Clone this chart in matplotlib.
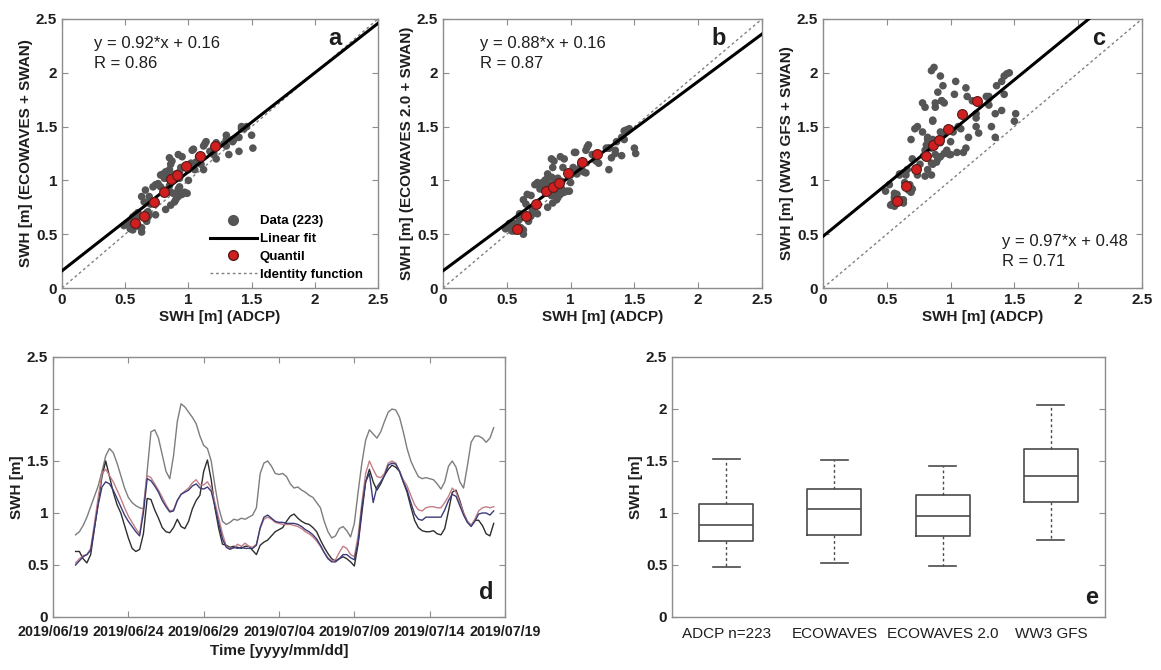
import numpy as np
import matplotlib
matplotlib.use("Agg")
import matplotlib.pyplot as plt
import matplotlib.dates as mdates
from matplotlib.lines import Line2D

plt.rcParams['font.family'] = ['Liberation Sans', 'DejaVu Sans']

# --- time series (6-hourly) ---
t_start = np.datetime64('2019-06-20T12:00')
adcp = [0.63, 0.63, 0.56, 0.52, 0.60, 0.85, 1.10, 1.35, 1.50, 1.35, 1.20, 1.08,
        1.00, 0.88, 0.76, 0.66, 0.63, 0.65, 0.80, 1.14, 1.13, 1.03, 0.95, 0.86,
        0.82, 0.81, 0.86, 0.94, 0.87, 0.85, 0.92, 1.04, 1.12, 1.17, 1.40, 1.51,
        1.32, 1.05, 0.85, 0.70, 0.69, 0.67, 0.68, 0.67, 0.66, 0.68, 0.68, 0.64,
        0.60, 0.69, 0.72, 0.74, 0.78, 0.82, 0.84, 0.86, 0.92, 0.97, 0.99, 0.95,
        0.92, 0.90, 0.89, 0.86, 0.82, 0.74, 0.67, 0.61, 0.56, 0.54, 0.56, 0.58,
        0.56, 0.53, 0.49, 0.70, 1.00, 1.30, 1.42, 1.30, 1.22, 1.28, 1.36, 1.42,
        1.46, 1.44, 1.40, 1.30, 1.20, 1.06, 0.93, 0.86, 0.83, 0.82, 0.82, 0.83,
        0.80, 0.79, 0.85, 1.02, 1.20, 1.22, 1.12, 1.00, 0.92, 0.88, 0.93, 0.93,
        0.88, 0.80, 0.78, 0.90]
ecowaves = [0.52, 0.56, 0.59, 0.60, 0.66, 0.90, 1.15, 1.38, 1.42, 1.36, 1.30, 1.22,
            1.14, 1.05, 0.97, 0.91, 0.85, 0.80, 1.05, 1.36, 1.34, 1.28, 1.22, 1.15,
            1.08, 1.02, 1.03, 1.12, 1.18, 1.21, 1.24, 1.29, 1.32, 1.27, 1.27, 1.30,
            1.24, 1.10, 0.95, 0.80, 0.68, 0.66, 0.66, 0.70, 0.68, 0.71, 0.68, 0.67,
            0.70, 0.85, 0.94, 0.96, 0.94, 0.91, 0.90, 0.89, 0.89, 0.89, 0.88, 0.87,
            0.85, 0.82, 0.80, 0.77, 0.73, 0.68, 0.62, 0.57, 0.54, 0.55, 0.62, 0.68,
            0.66, 0.60, 0.58, 0.78, 1.10, 1.38, 1.50, 1.42, 1.35, 1.34, 1.38, 1.48,
            1.50, 1.48, 1.40, 1.32, 1.26, 1.17, 1.08, 1.03, 1.02, 1.05, 1.06, 1.06,
            1.05, 1.05, 1.10, 1.16, 1.24, 1.20, 1.10, 1.00, 0.92, 0.88, 0.94, 1.02,
            1.05, 1.06, 1.05, 1.06]
ecowaves2 = [0.50, 0.54, 0.58, 0.60, 0.64, 0.86, 1.08, 1.25, 1.30, 1.28, 1.22, 1.14,
             1.06, 0.98, 0.92, 0.87, 0.82, 0.78, 1.00, 1.33, 1.31, 1.26, 1.20, 1.12,
             1.06, 1.01, 1.02, 1.12, 1.18, 1.20, 1.22, 1.26, 1.28, 1.24, 1.23, 1.25,
             1.21, 1.06, 0.90, 0.75, 0.67, 0.65, 0.67, 0.66, 0.67, 0.66, 0.66, 0.66,
             0.69, 0.86, 0.96, 0.98, 0.95, 0.92, 0.91, 0.91, 0.90, 0.90, 0.90, 0.89,
             0.87, 0.84, 0.82, 0.79, 0.75, 0.69, 0.62, 0.56, 0.53, 0.53, 0.56, 0.60,
             0.60, 0.57, 0.55, 0.72, 1.05, 1.30, 1.38, 1.10, 1.25, 1.30, 1.36, 1.46,
             1.48, 1.47, 1.40, 1.30, 1.22, 1.10, 0.99, 0.94, 0.93, 0.96, 0.96, 0.96,
             0.96, 0.96, 1.03, 1.12, 1.18, 1.16, 1.07, 0.98, 0.91, 0.87, 0.92, 0.99,
             1.00, 1.00, 0.98, 1.02]
ww3 = [0.79, 0.82, 0.88, 0.96, 1.06, 1.16, 1.26, 1.40, 1.55, 1.62, 1.58, 1.48,
       1.36, 1.24, 1.15, 1.10, 1.07, 1.05, 1.04, 1.40, 1.78, 1.80, 1.72, 1.56,
       1.40, 1.33, 1.55, 1.88, 2.05, 2.02, 1.97, 1.92, 1.86, 1.74, 1.65, 1.62,
       1.50, 1.26, 1.05, 0.92, 0.89, 0.91, 0.94, 0.93, 0.95, 0.94, 0.96, 0.98,
       1.05, 1.38, 1.48, 1.50, 1.45, 1.38, 1.37, 1.38, 1.35, 1.28, 1.24, 1.25,
       1.22, 1.20, 1.17, 1.15, 1.10, 1.05, 0.92, 0.82, 0.76, 0.78, 0.85, 0.87,
       0.83, 0.77, 0.90, 1.20, 1.48, 1.70, 1.80, 1.76, 1.72, 1.78, 1.88, 1.97,
       2.00, 1.99, 1.92, 1.78, 1.62, 1.50, 1.42, 1.35, 1.33, 1.34, 1.33, 1.32,
       1.28, 1.23, 1.30, 1.45, 1.50, 1.44, 1.30, 1.24, 1.45, 1.68, 1.74, 1.74,
       1.72, 1.68, 1.72, 1.82]
times = t_start + np.arange(len(adcp)) * np.timedelta64(6, 'h')

# --- quantile points for panels a-c ---
q_x = [0.58, 0.65, 0.73, 0.81, 0.86, 0.91, 0.98, 1.09, 1.21]
q_eco = [0.60, 0.67, 0.80, 0.89, 1.01, 1.05, 1.13, 1.23, 1.32]
q_eco2 = [0.55, 0.67, 0.78, 0.90, 0.94, 0.98, 1.07, 1.17, 1.25]
q_ww3 = [0.81, 0.95, 1.11, 1.23, 1.33, 1.38, 1.48, 1.62, 1.74]

fit_slope = [0.92, 0.88, 0.97]
fit_icpt = [0.16, 0.16, 0.48]
fit_r = [0.86, 0.87, 0.71]

# --- boxplot stats (panel e) ---
box_labels = ['ADCP n=223', 'ECOWAVES', 'ECOWAVES 2.0', 'WW3 GFS']
box_lo = [0.48, 0.52, 0.49, 0.74]
box_q1 = [0.73, 0.79, 0.78, 1.11]
box_med = [0.88, 1.04, 0.975, 1.36]
box_q3 = [1.09, 1.23, 1.17, 1.62]
box_hi = [1.52, 1.51, 1.45, 2.04]

spine_c = '#8c8c8c'
txt_c = '#1e1e1e'


def style_axes(ax, size=11):
    for s in ax.spines.values():
        s.set_color(spine_c)
        s.set_linewidth(1.0)
    ax.tick_params(direction='in', top=True, right=True, length=4,
                   color=spine_c, labelcolor=txt_c, labelsize=size)
    for lab in ax.get_xticklabels() + ax.get_yticklabels():
        lab.set_fontweight('bold')


fig = plt.figure(figsize=(11.61, 6.70), dpi=100)
W, H = 1161, 670

def add_ax(x0, x1, ytop, ybot):
    return fig.add_axes([x0 / W, 1 - ybot / H, (x1 - x0) / W, (ybot - ytop) / H])

top_axes = [add_ax(62, 378, 19, 288), add_ax(443, 762, 19, 288), add_ax(823, 1142, 19, 288)]
models = [ecowaves, ecowaves2, ww3]
quants = [q_eco, q_eco2, q_ww3]
ylabels = ['SWH [m] (ECOWAVES + SWAN)', 'SWH [m] (ECOWAVES 2.0 + SWAN)',
           'SWH [m] (WW3 GFS + SWAN)']
letters = ['a', 'b', 'c']
ticks = [0, 0.5, 1, 1.5, 2, 2.5]
tick_txt = ['0', '0.5', '1', '1.5', '2', '2.5']

for i, ax in enumerate(top_axes):
    xs = np.array([0, 2.5])
    ax.plot(xs, xs, color='#808080', lw=1.0, ls=(0, (2, 2)), zorder=1)
    ax.scatter(adcp, models[i], s=30, color='#555555', edgecolors='none', zorder=2)
    ax.plot(xs, fit_slope[i] * xs + fit_icpt[i], color='black', lw=2.2, zorder=3)
    ax.scatter(q_x, quants[i], s=50, color='#d01f1f', edgecolors='#5a1a1a',
               linewidths=0.8, zorder=4)
    ax.set_xlim(0, 2.5)
    ax.set_ylim(0, 2.5)
    ax.set_xticks(ticks)
    ax.set_xticklabels(tick_txt)
    ax.set_yticks(ticks)
    ax.set_yticklabels(tick_txt)
    style_axes(ax)
    ax.set_xlabel('SWH [m] (ADCP)', fontsize=11, fontweight='bold', color=txt_c, labelpad=2)
    ax.set_ylabel(ylabels[i], fontsize=11, fontweight='bold', color=txt_c, labelpad=2)
    eq = 'y = %.2f*x + %.2f\nR = %.2f' % (fit_slope[i], fit_icpt[i], fit_r[i])
    if i < 2:
        ax.text(0.10 if i == 0 else 0.115, 0.935, eq, transform=ax.transAxes, fontsize=12,
                va='top', ha='left', color=txt_c, linespacing=1.4)
    else:
        ax.text(0.56, 0.20, eq, transform=ax.transAxes, fontsize=12,
                va='top', ha='left', color=txt_c, linespacing=1.4)
    ax.text(0.865, 0.97, letters[i], transform=ax.transAxes, fontsize=17,
            fontweight='bold', va='top', ha='center', color=txt_c)

handles = [Line2D([], [], ls='none', marker='o', ms=7, color='#555555'),
           Line2D([], [], color='black', lw=2.2),
           Line2D([], [], ls='none', marker='o', ms=7, color='#d01f1f', mec='#5a1a1a'),
           Line2D([], [], color='#808080', lw=1.0, ls=(0, (2, 2)))]
leg = top_axes[0].legend(handles, ['Data (223)', 'Linear fit', 'Quantil', 'Identity function'],
                         loc='lower right', frameon=False, handlelength=3.6,
                         handletextpad=0.2, labelspacing=0.42, borderaxespad=0.15,
                         bbox_to_anchor=(0.975, 0.0),
                         prop={'weight': 'bold', 'size': 9.5})

# --- panel d: time series ---
axd = add_ax(53, 505, 357, 617)
axd.plot(times, ww3, color='#7d7d7d', lw=1.0)
axd.plot(times, adcp, color='#2e2e2e', lw=1.0)
axd.plot(times, ecowaves, color='#c47f86', lw=1.0)
axd.plot(times, ecowaves2, color='#3b3b78', lw=1.0)
axd.set_xlim(np.datetime64('2019-06-19'), np.datetime64('2019-07-19'))
axd.set_ylim(0, 2.5)
axd.set_yticks(ticks)
axd.set_yticklabels(tick_txt)
axd.xaxis.set_major_locator(mdates.DayLocator(bymonthday=[4, 9, 14, 19, 24, 29]))
axd.xaxis.set_major_formatter(mdates.DateFormatter('%Y/%m/%d'))
style_axes(axd)
axd.tick_params(axis='x', labelsize=10.3, pad=6)
axd.set_xlabel('Time [yyyy/mm/dd]', fontsize=11, fontweight='bold', color=txt_c, labelpad=3)
axd.set_ylabel('SWH [m]', fontsize=11, fontweight='bold', color=txt_c, labelpad=2)
axd.text(0.975, 0.05, 'd', transform=axd.transAxes, fontsize=17, fontweight='bold',
         ha='right', va='bottom', color=txt_c)

# --- panel e: boxplots ---
axe = add_ax(672, 1105, 357, 617)
stats = []
for k in range(4):
    stats.append(dict(med=box_med[k], q1=box_q1[k], q3=box_q3[k], whislo=box_lo[k],
                      whishi=box_hi[k], fliers=[], label=box_labels[k]))
bc = '#4a4a4a'
axe.bxp(stats, positions=[1, 2, 3, 4], widths=0.5, showfliers=False,
        boxprops=dict(color=bc, lw=1.2), medianprops=dict(color=bc, lw=1.2),
        whiskerprops=dict(color=bc, lw=1.0, ls=(0, (2, 2))),
        capprops=dict(color=bc, lw=1.2))
axe.set_xlim(0.5, 4.5)
axe.set_ylim(0, 2.5)
axe.set_yticks(ticks)
axe.set_yticklabels(tick_txt)
style_axes(axe)
axe.tick_params(axis='x', length=0, labelsize=11, pad=7)
for lab in axe.get_xticklabels():
    lab.set_fontweight('normal')
axe.set_ylabel('SWH [m]', fontsize=11, fontweight='bold', color=txt_c, labelpad=2)
axe.text(0.985, 0.03, 'e', transform=axe.transAxes, fontsize=17, fontweight='bold',
         ha='right', va='bottom', color=txt_c)

fig.savefig('out.png', dpi=100)
